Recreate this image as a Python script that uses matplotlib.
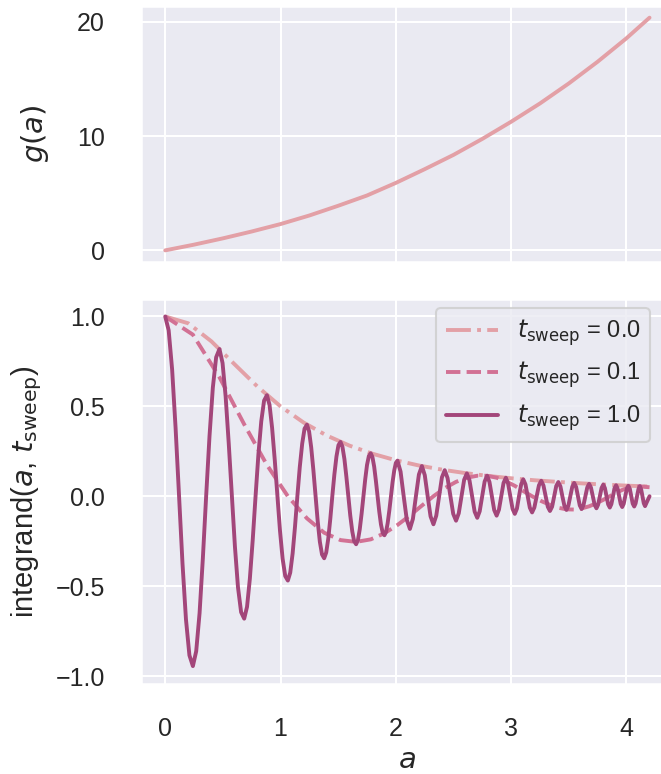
import matplotlib
matplotlib.use("Agg")
import matplotlib.pyplot as plt
import seaborn as sns

# g(a)
a_g = [0.0, 0.25, 0.5, 0.75, 1.0, 1.25, 1.5, 1.75, 2.0, 2.25, 2.5, 2.75,
       3.0, 3.25, 3.5, 3.75, 4.0, 4.2]
g_vals = [0.0, 0.5, 1.05, 1.65, 2.3, 3.05, 3.9, 4.8, 5.9, 7.1, 8.35, 9.75,
          11.25, 12.85, 14.6, 16.5, 18.55, 20.35]

# integrand for t_sweep = 0.0
a_t0 = [0.0, 0.2, 0.4, 0.6, 0.8, 1.0, 1.2, 1.4, 1.6, 1.8, 2.0, 2.2, 2.4,
        2.6, 2.8, 3.0, 3.2, 3.4, 3.6, 3.8, 4.0, 4.2]
y_t0 = [1.0, 0.962, 0.862, 0.735, 0.610, 0.500, 0.410, 0.338, 0.281, 0.236,
        0.200, 0.171, 0.148, 0.129, 0.113, 0.100, 0.089, 0.080, 0.072, 0.065,
        0.059, 0.054]

# integrand for t_sweep = 0.1
a_t01 = [0.0, 0.240, 0.4705, 0.685, 0.882, 1.0635, 1.229, 1.3785, 1.520,
         1.6555, 1.782, 1.901, 2.014, 2.122, 2.226, 2.326, 2.424, 2.522,
         2.616, 2.706, 2.7915, 2.874, 2.954, 3.0315, 3.105, 3.1815, 3.261,
         3.3365, 3.409, 3.4795, 3.5465, 3.611, 3.676, 3.7395, 3.799, 3.8555,
         3.910, 3.963, 4.016, 4.067, 4.116, 4.161, 4.2]
y_t01 = [1.0, 0.899, 0.662, 0.400, 0.174, 0.0, -0.123, -0.203, -0.244,
         -0.254, -0.240, -0.206, -0.160, -0.107, -0.052, 0.0, 0.045, 0.080,
         0.103, 0.114, 0.114, 0.103, 0.083, 0.058, 0.029, 0.0, -0.027,
         -0.048, -0.064, -0.073, -0.074, -0.068, -0.056, -0.039, -0.020, 0.0,
         0.019, 0.035, 0.047, 0.054, 0.056, 0.052, 0.050]

# integrand for t_sweep = 1.0
a_t1 = [0.0,
        0.030, 0.060, 0.090, 0.120, 0.150, 0.180, 0.210, 0.240,
        0.2688, 0.298, 0.3264, 0.355, 0.3841, 0.413, 0.4417, 0.4705,
        0.4973, 0.524, 0.5509, 0.578, 0.6046, 0.631, 0.6582, 0.685,
        0.7096, 0.734, 0.7589, 0.7835, 0.8081, 0.833, 0.8574, 0.882,
        0.9047, 0.927, 0.9501, 0.973, 0.9954, 1.018, 1.0408, 1.0635,
        1.0842, 1.105, 1.1256, 1.146, 1.1669, 1.188, 1.2083, 1.229,
        1.2477, 1.266, 1.2851, 1.304, 1.3224, 1.341, 1.3598, 1.3785,
        1.3962, 1.414, 1.4316, 1.449, 1.4669, 1.485, 1.5023, 1.520,
        1.5369, 1.554, 1.5708, 1.588, 1.6047, 1.622, 1.6386, 1.6555,
        1.6713, 1.687, 1.7029, 1.719, 1.7346, 1.750, 1.7662, 1.782,
        1.7969, 1.812, 1.8266, 1.8415, 1.8564, 1.871, 1.8861, 1.901,
        1.9151, 1.929, 1.9434, 1.9575, 1.9716, 1.986, 1.9999, 2.014,
        2.041, 2.068, 2.095, 2.122, 2.148, 2.174, 2.200, 2.226,
        2.251, 2.276, 2.301, 2.326, 2.3505, 2.375, 2.3995, 2.424,
        2.4485, 2.473, 2.4975, 2.522, 2.5455, 2.569, 2.5925, 2.616,
        2.6385, 2.661, 2.6835, 2.706, 2.727, 2.749, 2.770, 2.7915,
        2.812, 2.833, 2.853, 2.874, 2.894, 2.914, 2.934, 2.954,
        2.973, 2.993, 3.012, 3.0315, 3.050, 3.068, 3.087, 3.105,
        3.124, 3.143, 3.162, 3.1815, 3.201, 3.221, 3.241, 3.261,
        3.280, 3.299, 3.318, 3.3365, 3.355, 3.373, 3.391, 3.409,
        3.427, 3.444, 3.462, 3.4795, 3.496, 3.513, 3.530, 3.5465,
        3.563, 3.579, 3.595, 3.611, 3.627, 3.644, 3.660, 3.676,
        3.692, 3.708, 3.724, 3.7395, 3.754, 3.769, 3.784, 3.799,
        3.813, 3.827, 3.841, 3.8555, 3.869, 3.883, 3.896, 3.910,
        3.923, 3.9365, 3.950, 3.963, 3.976, 3.9895, 4.003, 4.016,
        4.029, 4.0415, 4.054, 4.067, 4.079, 4.0915, 4.104, 4.116,
        4.127, 4.1385, 4.150, 4.161, 4.172, 4.2]
y_t1 = [1.0,
        0.923, 0.705, 0.380, 0.0, -0.375, -0.685, -0.885, -0.945,
        -0.862, -0.650, -0.346, 0.0, 0.334, 0.604, 0.773, 0.819,
        0.741, 0.555, 0.294, 0.0, -0.280, -0.506, -0.645, -0.681,
        -0.615, -0.459, -0.243, 0.0, 0.232, 0.417, 0.532, 0.562,
        0.508, 0.380, 0.201, 0.0, -0.192, -0.347, -0.444, -0.469,
        -0.425, -0.318, -0.169, 0.0, 0.162, 0.293, 0.376, 0.398,
        0.361, 0.272, 0.144, 0.0, -0.139, -0.253, -0.324, -0.345,
        -0.313, -0.236, -0.126, 0.0, 0.121, 0.221, 0.284, 0.302,
        0.275, 0.207, 0.110, 0.0, -0.107, -0.195, -0.251, -0.267,
        -0.244, -0.184, -0.098, 0.0, 0.095, 0.174, 0.224, 0.239,
        0.218, 0.165, 0.088, 0.0, -0.086, -0.157, -0.203, -0.217,
        -0.198, -0.150, -0.080, 0.0, 0.078, 0.143, 0.185, 0.198,
        0.137, 0.0, -0.131, -0.182, -0.126, 0.0, 0.121, 0.168,
        0.117, 0.0, -0.112, -0.156, -0.108, 0.0, 0.105, 0.145,
        0.101, 0.0, -0.098, -0.136, -0.095, 0.0, 0.092, 0.127,
        0.089, 0.0, -0.086, -0.120, -0.084, 0.0, 0.082, 0.114,
        0.079, 0.0, -0.077, -0.108, -0.075, 0.0, 0.074, 0.103,
        0.072, 0.0, -0.070, -0.098, -0.069, 0.0, 0.067, 0.094,
        0.066, 0.0, -0.064, -0.090, -0.063, 0.0, 0.061, 0.086,
        0.060, 0.0, -0.059, -0.082, -0.058, 0.0, 0.057, 0.079,
        0.055, 0.0, -0.054, -0.076, -0.053, 0.0, 0.053, 0.074,
        0.052, 0.0, -0.051, -0.071, -0.050, 0.0, 0.049, 0.069,
        0.048, 0.0, -0.048, -0.067, -0.047, 0.0, 0.046, 0.065,
        0.045, 0.0, -0.045, -0.063, -0.044, 0.0, 0.044, 0.061,
        0.043, 0.0, -0.043, -0.060, -0.042, 0.0, 0.042, 0.058,
        0.041, 0.0, -0.041, -0.057, -0.040, 0.0, 0.040, 0.056,
        0.039, 0.0, -0.039, -0.055, -0.039, 0.0]

labels = [r"$t_\mathrm{sweep}$ = 0.0", r"$t_\mathrm{sweep}$ = 0.1",
          r"$t_\mathrm{sweep}$ = 1.0"]
colors = ["#e3a0a6", "#d27194", "#a3467a"]

sns.set_theme(style="darkgrid", context="talk")
plt.rcParams["font.family"] = ["Liberation Sans", "DejaVu Sans"]
plt.rcParams["mathtext.fontset"] = "dejavusans"

fig = plt.figure(figsize=(6.61, 7.74), dpi=100)
ax1 = fig.add_axes([0.2133, 0.6615, 0.806, 0.3307])
ax2 = fig.add_axes([0.2133, 0.1168, 0.806, 0.4969], sharex=ax1)

ax1.plot(a_g, g_vals, color=colors[0], lw=2.8)
ax1.set_ylabel(r"$g(a)$", fontsize=21)
ax1.yaxis.set_label_coords(-0.168, 0.5)
ax1.set_yticks([0, 10, 20])
ax1.tick_params(labelbottom=False, labelsize=18)
ax1.tick_params(axis="y", pad=17)

ax2.plot(a_t0, y_t0, color=colors[0], ls="-.", lw=2.8, label=labels[0])
ax2.plot(a_t01, y_t01, color=colors[1], ls="--", lw=2.8, label=labels[1])
ax2.plot(a_t1, y_t1, color=colors[2], ls="-", lw=2.8, label=labels[2])
ax2.set_yticks([-1.0, -0.5, 0.0, 0.5, 1.0])
ax2.set_xticks([0, 1, 2, 3, 4])
ax2.tick_params(labelsize=18)
ax2.tick_params(axis="y", pad=17)
ax2.tick_params(axis="x", pad=15)
ax2.set_xlabel(r"$a$", fontsize=21, labelpad=4)
ax2.set_ylabel(r"integrand($a$, $t_\mathrm{sweep}$)", fontsize=21)
ax2.yaxis.set_label_coords(-0.182, 0.5)
ax2.legend(loc="upper right", bbox_to_anchor=(0.955, 0.977), borderaxespad=0,
           fontsize=17, handlelength=2.2)

fig.savefig("out.png", dpi=100)
